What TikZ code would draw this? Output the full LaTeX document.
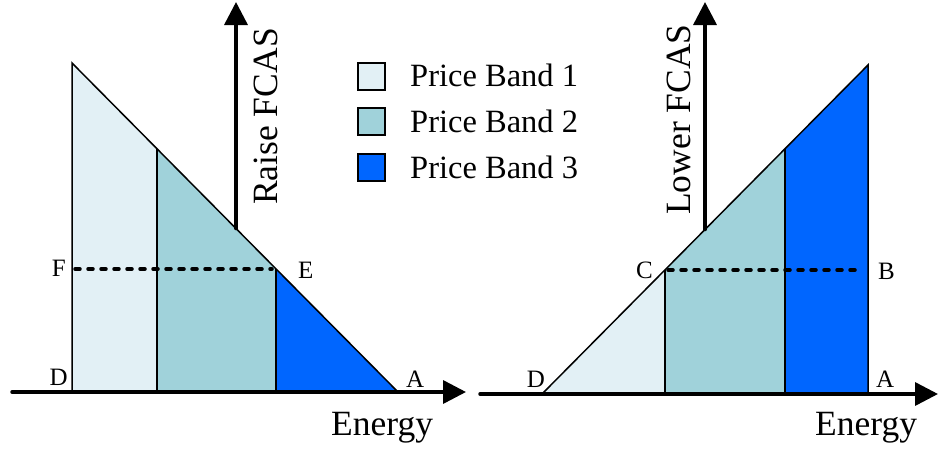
\documentclass[tikz,border=0pt]{standalone}
\usepackage{fontspec}
\setmainfont{Liberation Serif}
\usetikzlibrary{arrows.meta}
\definecolor{bandA}{RGB}{226,240,245}
\definecolor{bandB}{RGB}{160,210,218}
\definecolor{bandC}{RGB}{0,102,255}
\begin{document}
\begin{tikzpicture}[x=1pt,y=-1pt,
  axis/.style={line width=3.5pt,line cap=round,-{Triangle[length=23pt,width=23pt]}},
  edge/.style={draw=black,line width=1.5pt},
  dline/.style={line width=3.5pt,line cap=round,dash pattern=on 5pt off 8pt},
  lbl/.style={font=\fontsize{25}{25}\selectfont,inner sep=0pt},
  big/.style={font=\fontsize{35.5}{36}\selectfont,inner sep=0pt},
  legtext/.style={font=\fontsize{32.5}{33}\selectfont,inner sep=0pt,anchor=base west},
  legbox/.style={draw=black,line width=2pt,minimum size=27pt,inner sep=0pt}]
\useasboundingbox (0,0) rectangle (939,450);
% ---------- left panel ----------
\coordinate (LO) at (12,392);
\coordinate (LX) at (466,392);
\coordinate (LD) at (72,392);
\coordinate (LT) at (72,63);
\coordinate (LA) at (398,392);
\coordinate (L1) at (157,149);
\coordinate (L1b) at (157,392);
\coordinate (LE) at (276,269);
\coordinate (LEb) at (276,392);
\coordinate (LF) at (75,269);
\coordinate (LEd) at (272,269);
\coordinate (LV) at (236,228.5);
\coordinate (LY) at (236,2);
\fill[bandA] (LD)--(LT)--(L1)--(L1b)--cycle;
\fill[bandB] (L1b)--(L1)--(LE)--(LEb)--cycle;
\fill[bandC] (LEb)--(LE)--(LA)--cycle;
\draw[edge] (LD)--(LT)--(LA);
\draw[edge] (L1)--(L1b);
\draw[edge] (LE)--(LEb);
\draw[dline] (LF)--(LEd);
\draw[axis] (LO)--(LX);
\draw[axis] (LV)--(LY);
\node[lbl,anchor=base east] (tF) at (66,276) {F};
\node[lbl,anchor=base west] (tE) at (298,278) {E};
\node[lbl,anchor=base east] (tD) at (68,385) {D};
\node[lbl,anchor=base west] (tA) at (406,387) {A};
\node[big,anchor=base west] (enL) at (331,435) {Energy};
\node[big,rotate=90,anchor=base west] (raise) at (277,205) {Raise FCAS};
% ---------- legend ----------
\node[legbox,fill=bandA] (s1) at (371,76) {};
\node[legbox,fill=bandB] (s2) at (371,121.5) {};
\node[legbox,fill=bandC] (s3) at (371,167) {};
\node[legtext] (l1) at (410,86) {Price Band 1};
\node[legtext] (l2) at (410,132) {Price Band 2};
\node[legtext] (l3) at (410,178) {Price Band 3};
% ---------- right panel ----------
\coordinate (RO) at (480,394);
\coordinate (RX) at (938,394);
\coordinate (RD) at (542,394);
\coordinate (RT) at (868,65);
\coordinate (RA) at (868,394);
\coordinate (RC) at (665,270);
\coordinate (RCd) at (668,270);
\coordinate (RCb) at (665,394);
\coordinate (R2) at (785,149);
\coordinate (R2b) at (785,394);
\coordinate (RB) at (861,270);
\coordinate (RV) at (705,229.5);
\coordinate (RY) at (705,2);
\fill[bandA] (RD)--(RC)--(RCb)--cycle;
\fill[bandB] (RCb)--(RC)--(R2)--(R2b)--cycle;
\fill[bandC] (R2b)--(R2)--(RT)--(RA)--cycle;
\draw[edge] (RD)--(RT)--(RA);
\draw[edge] (RC)--(RCb);
\draw[edge] (R2)--(R2b);
\draw[dline] (RCd)--(RB);
\draw[axis] (RO)--(RX);
\draw[axis] (RV)--(RY);
\node[lbl,anchor=base east] (tC) at (653,278) {C};
\node[lbl,anchor=base west] (tB) at (878,279) {B};
\node[lbl,anchor=base east] (tD2) at (545,387) {D};
\node[lbl,anchor=base west] (tA2) at (876,387) {A};
\node[big,anchor=base west] (enR) at (815,435) {Energy};
\node[big,rotate=90,anchor=base west] (lower) at (690,215) {Lower FCAS};
\end{tikzpicture}
\end{document}
